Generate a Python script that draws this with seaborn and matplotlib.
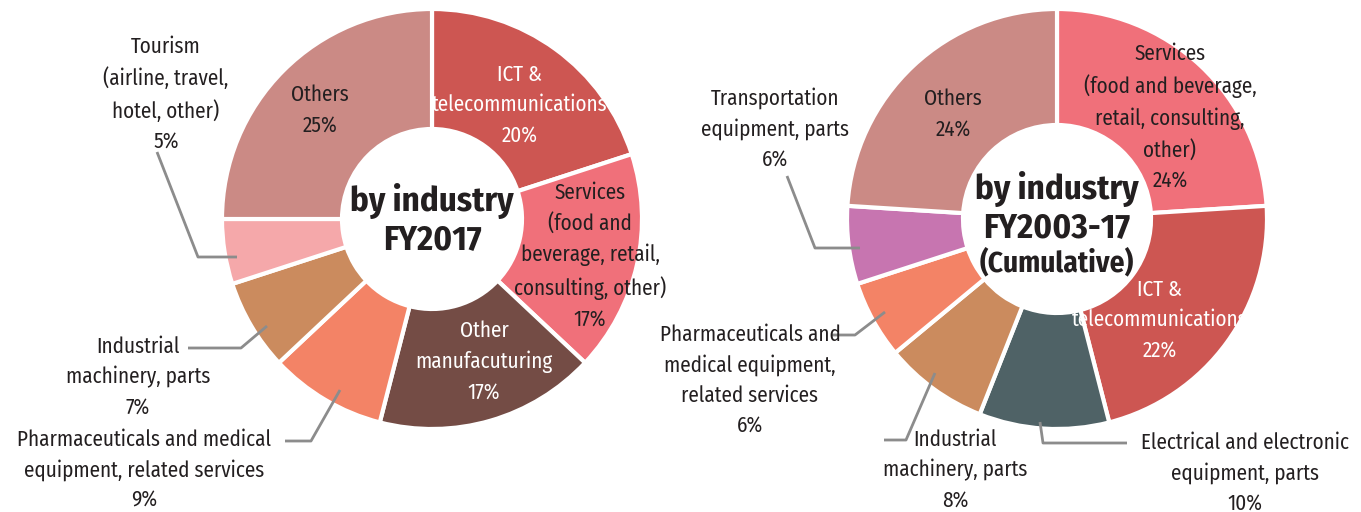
import matplotlib
matplotlib.use("Agg")
import matplotlib.pyplot as plt
import seaborn as sns

sns.set_theme(style="white")
plt.rcParams['font.family'] = ['Fira Sans Condensed', 'DejaVu Sans']

# FY2017, by industry (clockwise from 12 o'clock)
left_names = [
    "ICT &\ntelecommunications",
    "Services\n(food and\nbeverage, retail,\nconsulting, other)",
    "Other\nmanufacuturing",
    "Pharmaceuticals and medical\nequipment, related services",
    "Industrial\nmachinery, parts",
    "Tourism\n(airline, travel,\nhotel, other)",
    "Others",
]
left_values = [20, 17, 17, 9, 7, 5, 25]
left_colors = ["#CD5652", "#F0707A", "#744C45", "#F38366", "#CB8B5E", "#F5A8AA", "#CB8A85"]

# FY2003-17 cumulative, by industry (clockwise from 12 o'clock)
right_names = [
    "Services\n(food and beverage,\nretail, consulting,\nother)",
    "ICT &\ntelecommunications",
    "Electrical and electronic\nequipment, parts",
    "Industrial\nmachinery, parts",
    "Pharmaceuticals and\nmedical equipment,\nrelated services",
    "Transportation\nequipment, parts",
    "Others",
]
right_values = [24, 22, 10, 8, 6, 6, 24]
right_colors = ["#F0707A", "#CD5652", "#4F6266", "#CB8B5E", "#F38366", "#C775B0", "#CB8A85"]

W, H = 1361, 512
fig = plt.figure(figsize=(W / 100, H / 100), dpi=100)
ax = fig.add_axes([0, 0, 1, 1])


def Y(y):
    # layout helper: positions are given from the top edge
    return H - y


DARK = "#231F20"
LEADER = "#8C8C8C"
FS = 15.2
LS = 1.52


def donut(values, colors, cx, cy, r_out, r_in):
    ax.pie(values, colors=colors, startangle=90, counterclock=False,
           center=(cx, Y(cy)), radius=r_out, frame=True,
           wedgeprops=dict(width=r_out - r_in, edgecolor="white", linewidth=3))


def label(name, value, x, y, color=DARK, ha="center"):
    ax.text(x, Y(y), f"{name}\n{value}%", ha=ha, va="center", color=color,
            fontsize=FS, linespacing=LS)


def leader(xs, ys):
    ax.plot(xs, [Y(v) for v in ys], color=LEADER, lw=2, solid_capstyle="butt")


# ---- left donut ----
donut(left_values, left_colors, 432, 219, 210, 90)
label(left_names[0], left_values[0], 520, 105, color="white")
label(left_names[1], left_values[1], 590, 256)
label(left_names[2], left_values[2], 484, 362, color="white")
label(left_names[3], left_values[3], 144, 470)
label(left_names[4], left_values[4], 138, 377)
label(left_names[5], left_values[5], 166, 94)
label(left_names[6], left_values[6], 320, 110)
ax.text(432, Y(220), "by industry\nFY2017", ha="center", va="center", color=DARK,
        fontsize=25, fontweight="bold", linespacing=1.15)
leader([157, 198, 237], [152, 257, 257])
leader([188, 241, 267], [348, 348, 326])
leader([285, 311, 340], [441, 441, 390])

# ---- right donut ----
donut(right_values, right_colors, 1057, 219, 210, 94)
label(right_names[0], right_values[0], 1170, 117)
label(right_names[1], right_values[1], 1160, 320, color="white")
label(right_names[2], right_values[2], 1245, 473)
label(right_names[3], right_values[3], 955, 470)
label(right_names[4], right_values[4], 750, 380)
label(right_names[5], right_values[5], 775, 129)
label(right_names[6], right_values[6], 953, 114)
ax.text(1057, Y(208), "by industry\nFY2003-17", ha="center", va="center", color=DARK,
        fontsize=25, fontweight="bold", linespacing=1.15)
ax.text(1057, Y(263), "(Cumulative)", ha="center", va="center", color=DARK,
        fontsize=21, fontweight="bold")
leader([787, 815, 860], [176, 248, 248])
leader([832, 855, 885], [335, 335, 312])
leader([884, 906, 935], [440, 440, 373])
leader([1040, 1043, 1127], [422, 443, 443])

ax.set_xlim(0, W)
ax.set_ylim(0, H)
ax.set_aspect("equal")
ax.axis("off")

fig.savefig("out.png", dpi=100, facecolor="white")
